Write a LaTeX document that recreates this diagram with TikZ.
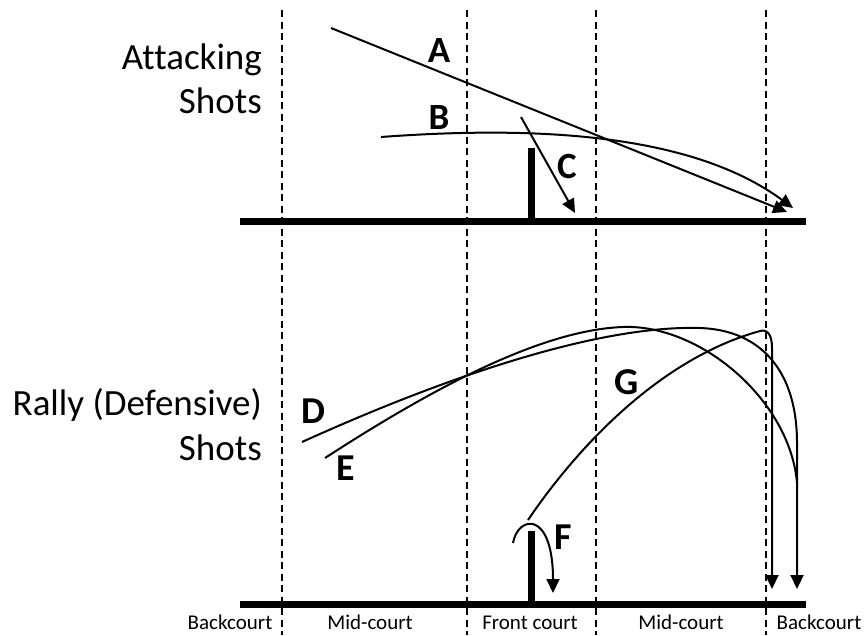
\documentclass[tikz,border=0pt]{standalone}
\usepackage{fontspec}
\setmainfont{Carlito}[Ligatures=NoCommon]
\usetikzlibrary{arrows.meta}
\begin{document}
\begin{tikzpicture}[x=1pt,y=-1pt,
  shot/.style={line width=2pt},
  shotarrow/.style={shot,-{Triangle[length=14pt,width=13pt]}},
  court/.style={line width=7pt},
  netpost/.style={line width=7pt},
  zone/.style={line width=2.2pt,dash pattern=on 7pt off 4.5pt},
  lbltop/.style={font=\fontsize{37}{42}\selectfont\bfseries, inner sep=0pt},
  lblbot/.style={font=\fontsize{38}{42}\selectfont\bfseries, inner sep=0pt},
  title/.style={font=\fontsize{37}{44}\selectfont, inner sep=0pt, anchor=base east},
  zonelbl/.style={font=\fontsize{21}{24}\selectfont, inner sep=0pt, anchor=base}]
\useasboundingbox (0,0) rectangle (864,635);

% zone separators
\foreach \x/\n in {282/z1,467/z2,596/z3,766/z4}{
  \coordinate (\n t) at (\x,10);
  \coordinate (\n b) at (\x,635);
  \draw[zone] (\n t) -- (\n b);
}

% courts and nets
\coordinate (g1l) at (240,221); \coordinate (g1r) at (806,221);
\coordinate (g2l) at (240,604); \coordinate (g2r) at (806,604);
\draw[court] (g1l) -- (g1r);
\draw[court] (g2l) -- (g2r);
\coordinate (n1t) at (531,148); \coordinate (n1b) at (531,221);
\coordinate (n2t) at (531,531); \coordinate (n2b) at (531,604);
\draw[netpost] (n1t) -- (n1b);
\draw[netpost] (n2t) -- (n2b);

% titles
\node[title] (t1a) at (262,69) {Attacking};
\node[title] (t1b) at (262,113) {Shots};
\node[title] (t2a) at (262,415) {Rally (Defensive)};
\node[title] (t2b) at (262,460) {Shots};

% attacking shots
\coordinate (As) at (331,28); \coordinate (Ae) at (787,212);
\draw[shotarrow] (As) -- (Ae);
\coordinate (Bs) at (381,137); \coordinate (Be) at (793,208);
\draw[shotarrow] (Bs) .. controls (530,126) and (690,132) .. (Be);
\coordinate (Cs) at (521,117); \coordinate (Ce) at (575,213);
\draw[shotarrow] (Cs) -- (Ce);

\node[lbltop] (labA) at (439,51) {A};
\node[lbltop] (labB) at (439,117) {B};
\node[lbltop] (labC) at (567,166) {C};

% rally shots
\coordinate (Ds) at (302,442); \coordinate (Dp) at (700,328); \coordinate (Dv) at (797,443); \coordinate (De) at (797,589);
\draw[shotarrow] (Ds) .. controls (450,375) and (600,325) .. (Dp)
   .. controls (760,330) and (797,370) .. (Dv) -- (De);
\coordinate (Es) at (325,458); \coordinate (Ep) at (623,327); \coordinate (Ee) at (797,483);
\draw[shot] (Es) .. controls (430,390) and (540,330) .. (Ep)
   .. controls (700,324) and (790,400) .. (Ee);
\coordinate (Fs) at (513,543); \coordinate (Fe) at (553,593);
\draw[shotarrow] (Fs) .. controls (518,515) and (553,510) .. (Fe);
\coordinate (Gs) at (528,520); \coordinate (Gp) at (760,331); \coordinate (Gv) at (772,348); \coordinate (Ge) at (772,589);
\draw[shotarrow] (Gs) .. controls (572,455) and (655,360) .. (Gp)
   .. controls (767,329) and (772,334) .. (Gv) -- (Ge);

\node[lblbot] (labD) at (313,411) {D};
\node[lblbot] (labE) at (346,468) {E};
\node[lblbot] (labF) at (563,537) {F};
\node[lblbot] (labG) at (627,382) {G};

% zone labels
\node[zonelbl] (zl1) at (230,629) {Backcourt};
\node[zonelbl] (zl2) at (370,629) {Mid-court};
\node[zonelbl] (zl3) at (530,629) {Front court};
\node[zonelbl] (zl4) at (681,629) {Mid-court};
\node[zonelbl] (zl5) at (819,629) {Backcourt};
\end{tikzpicture}
\end{document}
